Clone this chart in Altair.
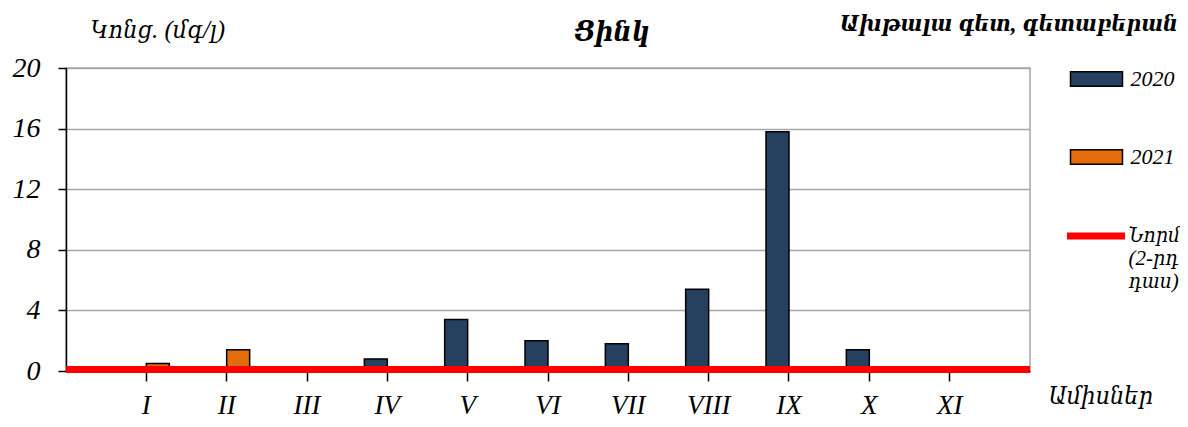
import altair as alt
import pandas as pd

months = ["I", "II", "III", "IV", "V", "VI", "VII", "VIII", "IX", "X", "XI"]
years = ["2020", "2021"]
values_2020 = [None, None, None, 0.8, 3.4, 2.0, 1.8, 5.4, 15.8, 1.4, None]
values_2021 = [0.5, 1.4, None, None, None, None, None, None, None, None, None]
norm_value = 0.1
norm_label = "Նորմ (2-րդ դաս)"
y_ticks = [0, 4, 8, 12, 16, 20]

title_text = "Ցինկ"
station_text = "Ախթալա գետ, գետաբերան"
y_title = "Կոնց. (մգ/լ)"
x_title = "Ամիսներ"

FONT = "Liberation Serif, DejaVu Serif Condensed, DejaVu Serif"
W, H = 964, 303

rows = []
for yr, vals in zip(years, [values_2020, values_2021]):
    for m, v in zip(months, vals):
        if v is not None:
            rows.append({"month": m, "year": yr, "value": v})
bars_df = pd.DataFrame(rows)
norm_df = pd.DataFrame({"value": [norm_value], "label": [norm_label]})
text_df = pd.DataFrame({"t": [station_text]})

bars = alt.Chart(bars_df).mark_bar(stroke="black", strokeWidth=1.5).encode(
    x=alt.X(
        "month:N",
        sort=months,
        scale=alt.Scale(domain=months, paddingInner=0.4274, paddingOuter=0.7137),
        axis=alt.Axis(
            title=x_title,
            titleX=982, titleY=32, titleAlign="left", titleBaseline="alphabetic",
            titleFont=FONT, titleFontSize=25, titleFontStyle="italic", titleFontWeight="normal",
            titleColor="black",
            labelAngle=0, labelFont=FONT, labelFontSize=27, labelFontStyle="italic",
            labelColor="black", labelPadding=11, labelBaseline="top",
            tickSize=10, tickColor="black", tickWidth=1.5,
            domainColor="black", domainWidth=1.5, grid=False,
        ),
    ),
    xOffset=alt.XOffset("year:N", scale=alt.Scale(domain=years, paddingInner=0, paddingOuter=0)),
    y=alt.Y(
        "value:Q",
        scale=alt.Scale(domain=[0, 20]),
        axis=alt.Axis(
            values=y_ticks, title=y_title,
            titleX=24, titleY=-31, titleAngle=0, titleAlign="left", titleBaseline="alphabetic",
            titleFont=FONT, titleFontSize=25, titleFontStyle="italic", titleFontWeight="normal",
            titleColor="black",
            labelFont=FONT, labelFontSize=28, labelFontStyle="italic", labelColor="black",
            labelPadding=18,
            tickSize=8, tickColor="black", tickWidth=1.5,
            domainColor="black", domainWidth=1.5,
            grid=True, gridColor="#a6a6a6", gridWidth=1.5,
        ),
    ),
    fill=alt.Fill(
        "year:N",
        scale=alt.Scale(domain=years, range=["#26405F", "#E46C0A"]),
        title=None,
        legend=alt.Legend(
            orient="none", legendX=1003.5, legendY=-16,
            symbolType="M-1,-0.28H1V0.28H-1Z", symbolSize=2704,
            symbolStrokeColor="black", symbolStrokeWidth=1.5,
            rowPadding=40, padding=0,
            labelFont=FONT, labelFontSize=22, labelFontStyle="italic", labelColor="black",
            labelOffset=7,
        ),
    ),
)

rule = alt.Chart(norm_df).mark_rule(strokeWidth=7).encode(
    y="value:Q",
    x=alt.value(0),
    x2=alt.value(W),
    stroke=alt.Stroke(
        "label:N",
        scale=alt.Scale(domain=[norm_label], range=["#FF0000"]),
        title=None,
        legend=alt.Legend(
            orient="none", legendX=997.5, legendY=135.6,
            symbolType="stroke", symbolSize=3364, symbolStrokeWidth=7,
            padding=0,
            labelExpr="split(datum.label, ' ')",
            labelFont=FONT, labelFontSize=21, labelFontStyle="italic", labelColor="black",
            labelOffset=0,
        ),
    ),
)

station = alt.Chart(text_df).mark_text(
    align="right", baseline="alphabetic", font=FONT, fontSize=23,
    fontStyle="italic", fontWeight="bold", color="black",
).encode(text="t:N", x=alt.value(1112), y=alt.value(-37))

chart = alt.layer(bars, rule, station).properties(
    width=W, height=H,
    autosize=alt.AutoSizeParams(type="none"),
    padding={"left": 58, "top": 60, "right": 150, "bottom": 48},
    title=alt.Title(
        title_text, font=FONT, fontSize=28, fontStyle="italic", fontWeight="bold",
        color="black", anchor="middle", dx=64, dy=60, baseline="alphabetic",
    ),
).configure_view(stroke="#a6a6a6", strokeWidth=1.5)

chart.save("out.html", embed_options={"renderer": "svg", "actions": False})
